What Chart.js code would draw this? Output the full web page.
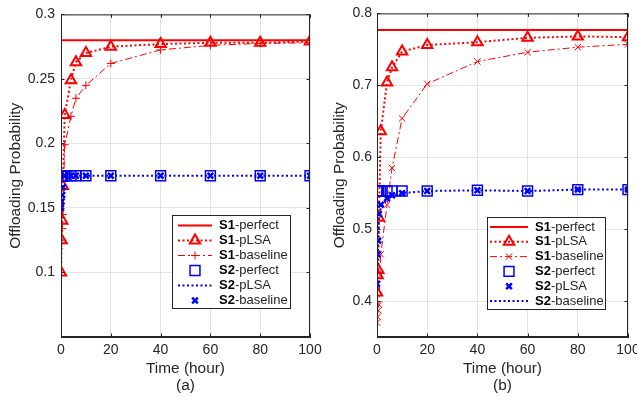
<!DOCTYPE html>
<html>
<head>
<meta charset="utf-8">
<script src="https://cdn.jsdelivr.net/npm/chart.js@4/dist/chart.umd.min.js"></script>
<style>
  html, body { margin: 0; padding: 0; background: #fff; overflow: hidden; }
  #wrap { position: relative; width: 637px; height: 401px; overflow: hidden; background: #fff; }
  .pane { position: absolute; top: 0; width: 330px; height: 401px; }
</style>
</head>
<body>
<div id="wrap">
  <div class="pane" style="left:0"><canvas id="chartA" width="330" height="401"></canvas></div>
  <div class="pane" style="left:318px"><canvas id="chartB" width="330" height="401"></canvas></div>
</div>
<script>
// time axis shared by every curve (hours)
const hours = [0, 0.25, 0.5, 0.75, 1.5, 4, 6, 10, 20, 40, 60, 80, 100];
const xTicks = [0, 20, 40, 60, 80, 100];

// panel (a)
const aS1Perfect = [0.28, 0.28, 0.28, 0.28, 0.28, 0.28, 0.28, 0.28, 0.28, 0.28, 0.28, 0.28, 0.28];
const aS1pLSA = [0.100, 0.125, 0.140, 0.167, 0.222, 0.249, 0.263, 0.270, 0.275, 0.277, 0.278, 0.278, 0.279];
const aS1Baseline = [0.100, 0.125, 0.134, 0.145, 0.199, 0.221, 0.235, 0.245, 0.262, 0.2725, 0.276, 0.2775, 0.278];
const aS2Perfect = [0.175, 0.175, 0.175, 0.175, 0.175, 0.175, 0.175, 0.175, 0.175, 0.175, 0.175, 0.175, 0.175];
const aS2pLSA = [0.175, 0.175, 0.175, 0.175, 0.175, 0.175, 0.175, 0.175, 0.175, 0.175, 0.175, 0.175, 0.175];
const aS2Baseline = [0.150, 0.155, 0.160, 0.166, 0.175, 0.175, 0.175, 0.175, 0.175, 0.175, 0.175, 0.175, 0.175];
const aYTicks = [0.1, 0.15, 0.2, 0.25, 0.3];

// panel (b)
const bS1Perfect = [0.777, 0.777, 0.777, 0.777, 0.777, 0.777, 0.777, 0.777, 0.777, 0.777, 0.777, 0.777, 0.777];
const bS1pLSA = [0.412, 0.436, 0.443, 0.516, 0.636, 0.704, 0.725, 0.747, 0.756, 0.760, 0.766, 0.768, 0.767];
const bS1Baseline = [0.370, 0.378, 0.387, 0.395, 0.465, 0.534, 0.585, 0.654, 0.702, 0.733, 0.746, 0.753, 0.757];
const bS2Perfect = [0.553, 0.553, 0.553, 0.553, 0.553, 0.553, 0.553, 0.553, 0.553, 0.554, 0.553, 0.555, 0.555];
const bS2pLSA = [0.424, 0.465, 0.484, 0.521, 0.534, 0.543, 0.547, 0.550, 0.553, 0.554, 0.553, 0.555, 0.555];
const bS2Baseline = [0.420, 0.460, 0.480, 0.515, 0.530, 0.541, 0.546, 0.550, 0.553, 0.554, 0.553, 0.555, 0.555];
const bYTicks = [0.4, 0.5, 0.6, 0.7, 0.8];

const RED = "#ff0000";
const BLUE = "#0000ff";
const INK = "#262626";
const DOT = [2, 2.5];
const DASHDOT = [7, 3, 2, 3];
const TICK_SIZE = 14;
const LABEL_SIZE = 15.4;

Chart.defaults.font.family = "'Liberation Sans', Arial, Helvetica, sans-serif";
Chart.defaults.color = INK;

function pts(vals) {
  return hours.map((h, i) => ({ x: h, y: vals[i] }));
}

function lineSet(vals, color, width, dash, order) {
  return {
    data: pts(vals), borderColor: color, borderWidth: width, borderDash: dash,
    pointRadius: 0, fill: false, tension: 0, order: order
  };
}

function markerSet(vals, color, style, r, bw, order) {
  return {
    data: pts(vals), showLine: false, pointStyle: style, pointRadius: r,
    pointBorderWidth: bw, pointBorderColor: color, pointBackgroundColor: "rgba(0,0,0,0)",
    borderColor: color, order: order
  };
}

function drawMarker(ctx, style, x, y, r) {
  ctx.beginPath();
  if (style === "triangle") {
    ctx.moveTo(x, y - r);
    ctx.lineTo(x + 0.866 * r, y + 0.5 * r);
    ctx.lineTo(x - 0.866 * r, y + 0.5 * r);
    ctx.closePath();
  } else if (style === "rect") {
    const s = r * Math.SQRT1_2;
    ctx.rect(x - s, y - s, 2 * s, 2 * s);
  } else if (style === "cross") {
    ctx.moveTo(x - r, y); ctx.lineTo(x + r, y);
    ctx.moveTo(x, y - r); ctx.lineTo(x, y + r);
  } else if (style === "crossRot") {
    const s = r * Math.SQRT1_2;
    ctx.moveTo(x - s, y - s); ctx.lineTo(x + s, y + s);
    ctx.moveTo(x - s, y + s); ctx.lineTo(x + s, y - s);
  }
  ctx.stroke();
}

// box, inward ticks and the legend, drawn the MATLAB way
const frame = {
  id: "frame",
  afterDraw(chart, args, opts) {
    const ctx = chart.ctx;
    const a = chart.chartArea;
    const xs = chart.scales.x, ys = chart.scales.y;
    ctx.save();
    ctx.strokeStyle = INK;
    ctx.lineWidth = 1;
    ctx.setLineDash([]);
    ctx.strokeRect(a.left + 0.5, a.top + 0.5, a.right - a.left - 1, a.bottom - a.top - 1);
    ctx.beginPath();
    xTicks.forEach(v => {
      const p = Math.round(xs.getPixelForValue(v)) + 0.5;
      ctx.moveTo(p, a.bottom); ctx.lineTo(p, a.bottom - 3.5);
      ctx.moveTo(p, a.top); ctx.lineTo(p, a.top + 3.5);
    });
    opts.yTicks.forEach(v => {
      const p = Math.round(ys.getPixelForValue(v)) + 0.5;
      ctx.moveTo(a.left, p); ctx.lineTo(a.left + 3.5, p);
      ctx.moveTo(a.right, p); ctx.lineTo(a.right - 3.5, p);
    });
    ctx.stroke();

    // legend
    const L = opts.legend;
    ctx.fillStyle = "#fff";
    ctx.fillRect(L.x, L.y, L.w, L.h);
    ctx.strokeStyle = INK;
    ctx.strokeRect(L.x + 0.5, L.y + 0.5, L.w, L.h);
    L.rows.forEach((row, i) => {
      const y = L.row0 + i * L.gap;
      ctx.strokeStyle = row.color;
      if (row.line) {
        ctx.lineWidth = row.width;
        ctx.setLineDash(row.line === "dot" ? DOT : row.line === "dashdot" ? DASHDOT : []);
        ctx.beginPath();
        ctx.moveTo(L.lx1, y); ctx.lineTo(L.lx2, y);
        ctx.stroke();
      }
      ctx.setLineDash([]);
      if (row.marker) {
        ctx.lineWidth = row.mw;
        drawMarker(ctx, row.marker, (L.lx1 + L.lx2) / 2, y, row.mr);
      }
      ctx.fillStyle = "#000";
      ctx.textBaseline = "middle";
      ctx.textAlign = "left";
      ctx.font = "bold 13px 'Liberation Sans', Arial, sans-serif";
      ctx.fillText(row.s, L.tx, y);
      const w = ctx.measureText(row.s).width;
      ctx.fillStyle = INK;
      ctx.font = "13px 'Liberation Sans', Arial, sans-serif";
      ctx.fillText(row.rest, L.tx + w, y);
    });
    ctx.restore();
  }
};

function makeChart(id, datasets, cfg) {
  return new Chart(document.getElementById(id), {
    type: "line",
    data: { datasets: datasets },
    plugins: [frame],
    options: {
      responsive: false,
      animation: false,
      devicePixelRatio: 1,
      layout: { padding: { top: 11, right: 20, left: 0, bottom: 0 } },
      plugins: {
        legend: { display: false },
        tooltip: { enabled: false },
        frame: { yTicks: cfg.yTicks, legend: cfg.legend }
      },
      scales: {
        x: {
          type: "linear", min: 0, max: 100,
          afterBuildTicks: s => { s.ticks = xTicks.map(v => ({ value: v })); },
          afterFit: s => { s.height = 64; },
          ticks: { font: { size: TICK_SIZE }, color: INK, padding: 5, maxRotation: 0, autoSkip: false },
          grid: { color: "#e3e3e3", drawTicks: false },
          border: { color: INK },
          title: {
            display: true, text: ["Time (hour)", cfg.label], color: INK,
            font: { size: LABEL_SIZE, lineHeight: 1.1 }, padding: { top: 0, bottom: 6.5 }
          }
        },
        y: {
          type: "linear", min: cfg.yMin, max: cfg.yMax,
          afterBuildTicks: s => { s.ticks = cfg.yTicks.map(v => ({ value: v })); },
          afterFit: s => { s.width = cfg.yWidth; },
          ticks: {
            font: { size: TICK_SIZE }, color: INK, padding: cfg.yPad,
            callback: v => String(parseFloat(v.toFixed(2)))
          },
          grid: { color: "#e3e3e3", drawTicks: false },
          border: { color: INK },
          title: {
            display: true, text: "Offloading Probability", color: INK,
            font: { size: LABEL_SIZE, lineHeight: 1.1 }, padding: { top: cfg.titlePad, bottom: 0 }
          }
        }
      }
    }
  });
}

makeChart("chartA", [
  lineSet(aS1Perfect, RED, 2, [], 6),
  Object.assign(markerSet(aS1pLSA, RED, "triangle", 6, 2, 5), { showLine: true, borderWidth: 2, borderDash: DOT }),
  Object.assign(markerSet(aS1Baseline, RED, "cross", 4, 1, 4), { showLine: true, borderWidth: 1, borderDash: DASHDOT }),
  markerSet(aS2Perfect, BLUE, "rect", 7, 1.5, 3),
  lineSet(aS2pLSA, BLUE, 2, DOT, 2),
  markerSet(aS2Baseline, BLUE, "crossRot", 4, 2.5, 1)
], {
  label: "(a)", yMin: 0.05, yMax: 0.3, yTicks: aYTicks, yWidth: 61, yPad: 6, titlePad: 7.5,
  legend: {
    x: 172, y: 215, w: 118, h: 93, row0: 225.5, gap: 15, lx1: 178, lx2: 212, tx: 219,
    rows: [
      { s: "S1", rest: "-perfect", color: RED, line: "solid", width: 2 },
      { s: "S1", rest: "-pLSA", color: RED, line: "dot", width: 2, marker: "triangle", mr: 6, mw: 2 },
      { s: "S1", rest: "-baseline", color: RED, line: "dashdot", width: 1, marker: "cross", mr: 4, mw: 1 },
      { s: "S2", rest: "-perfect", color: BLUE, marker: "rect", mr: 7, mw: 1.5 },
      { s: "S2", rest: "-pLSA", color: BLUE, line: "dot", width: 2 },
      { s: "S2", rest: "-baseline", color: BLUE, marker: "crossRot", mr: 4, mw: 2.5 }
    ]
  }
});

makeChart("chartB", [
  lineSet(bS1Perfect, RED, 2, [], 6),
  Object.assign(markerSet(bS1pLSA, RED, "triangle", 6, 2, 5), { showLine: true, borderWidth: 2, borderDash: DOT }),
  Object.assign(markerSet(bS1Baseline, RED, "crossRot", 4.5, 1, 4), { showLine: true, borderWidth: 1, borderDash: DASHDOT }),
  markerSet(bS2Perfect, BLUE, "rect", 7, 1.5, 3),
  markerSet(bS2pLSA, BLUE, "crossRot", 4, 2.5, 2),
  lineSet(bS2Baseline, BLUE, 2, DOT, 1)
], {
  label: "(b)", yMin: 0.35, yMax: 0.8, yTicks: bYTicks, yWidth: 59, yPad: 5, titlePad: 13.5,
  legend: {
    x: 169, y: 217, w: 118, h: 92, row0: 227, gap: 14.8, lx1: 172, lx2: 210, tx: 217,
    rows: [
      { s: "S1", rest: "-perfect", color: RED, line: "solid", width: 2 },
      { s: "S1", rest: "-pLSA", color: RED, line: "dot", width: 2, marker: "triangle", mr: 6, mw: 2 },
      { s: "S1", rest: "-baseline", color: RED, line: "dashdot", width: 1, marker: "crossRot", mr: 4.5, mw: 1 },
      { s: "S2", rest: "-perfect", color: BLUE, marker: "rect", mr: 7, mw: 1.5 },
      { s: "S2", rest: "-pLSA", color: BLUE, marker: "crossRot", mr: 4, mw: 2.5 },
      { s: "S2", rest: "-baseline", color: BLUE, line: "dot", width: 2 }
    ]
  }
});
</script>
</body>
</html>
